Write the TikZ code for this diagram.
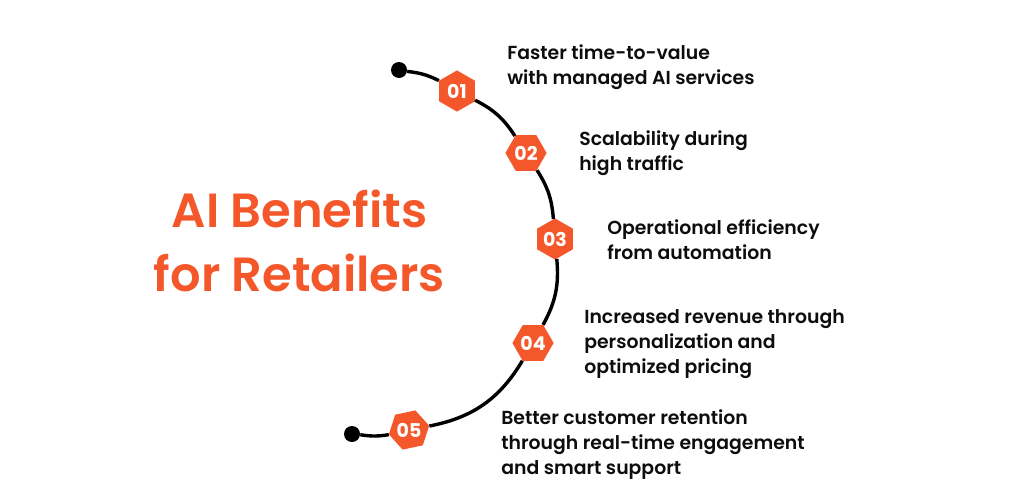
\documentclass[tikz,border=0pt]{standalone}
\usepackage{fontspec}
\setmainfont{Poppins}
\usepackage{xcolor}
\usetikzlibrary{shapes.geometric,positioning}
\definecolor{brandorange}{HTML}{F4572A}
\definecolor{inkblack}{HTML}{0D0D0D}
\tikzset{
    hexbox/.style={regular polygon,regular polygon sides=6,minimum size=1.03cm,inner sep=0pt,fill=brandorange,text=white,font=\fontsize{13.5}{15}\selectfont\bfseries},
    enddot/.style={circle,fill=black,minimum size=0.4cm,inner sep=0pt},
    benefit/.style={anchor=west,align=left,text=inkblack,inner sep=0pt,font=\fontsize{13.4}{17.8}\selectfont\fontspec{Poppins SemiBold}},
    curve/.style={draw=black,line width=0.085cm}
}
\begin{document}
\begin{tikzpicture}[x=0.025cm,y=-0.025cm]
    \useasboundingbox (0,0) rectangle (1024,500);
    % Title
    \node[text=brandorange,align=center,font=\fontsize{34.1}{45}\selectfont\fontspec{Poppins SemiBold}] (title) at (299.5,241) {AI Benefits\\for Retailers};

    % Steps
    \node[hexbox,shape border rotate=30] (n01) at (457,91) {01};
    \node[hexbox] (n02) at (526,153) {02};
    \node[hexbox,shape border rotate=30] (n03) at (555,239) {03};
    \node[hexbox] (n04) at (533,343) {04};
    \node[hexbox,shape border rotate=12] (n05) at (409,430) {05};

    % Ends
    \node[enddot] (startdot) at (399,70) {};
    \node[enddot] (enddot) at (352,434) {};

    % Curve
    \draw[curve] (startdot) to[bend left=10] (n01);
    \draw[curve] (n01) to[bend left=15] (n02);
    \draw[curve] (n02) to[bend left=14] (n03);
    \draw[curve] (n03) to[bend left=17] (n04);
    \draw[curve] (n04) to[bend left=24] (n05);
    \draw[curve] (n05) to[bend left=9] (enddot);

    % Labels
    \node[benefit] (t01) at (507,67) {Faster time-to-value\\with managed AI services};
    \node[benefit] (t02) at (579,153) {Scalability during\\high traffic};
    \node[benefit] (t03) at (607,240) {Operational efficiency\\from automation};
    \node[benefit] (t04) at (584,344) {Increased revenue through\\personalization and\\optimized pricing};
    \node[benefit] (t05) at (501,445) {Better customer retention\\through real-time engagement\\and smart support};
\end{tikzpicture}
\end{document}
